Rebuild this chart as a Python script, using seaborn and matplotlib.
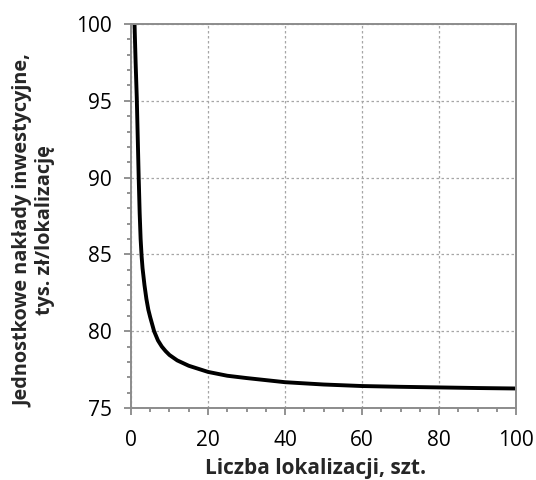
import matplotlib
matplotlib.use("Agg")
import matplotlib.pyplot as plt
from matplotlib.ticker import MultipleLocator
import seaborn as sns
import pandas as pd

# Unit investment cost vs. number of locations
liczba_lokalizacji = [0.85, 1.2, 1.5, 1.75, 2, 2.25, 2.5, 2.75, 3, 3.5, 4, 4.5, 5, 6, 7, 8,
                      9, 10, 12, 15, 20, 25, 30, 40, 50, 60, 70, 80, 90, 100]
naklady = [100.6, 97.5, 95.2, 92.6, 90.0, 87.7, 86.0, 84.9, 84.1, 83.0, 82.1, 81.4, 80.9,
           80.0, 79.4, 79.0, 78.7, 78.45, 78.1, 77.75, 77.35, 77.1, 76.95, 76.68, 76.53,
           76.43, 76.38, 76.34, 76.3, 76.27]

x_ticks = [0, 20, 40, 60, 80, 100]
y_ticks = [75, 80, 85, 90, 95, 100]

df = pd.DataFrame({"x": liczba_lokalizacji, "y": naklady})

sns.set_theme(style="white")
plt.rcParams["font.family"] = ["Open Sans", "DejaVu Sans"]

fig = plt.figure(figsize=(5.36, 4.8), dpi=100)
ax = fig.add_axes([0.2444, 0.15, 0.7183, 0.80])

sns.lineplot(data=df, x="x", y="y", ax=ax, color="black", linewidth=2.8)
for ln in ax.get_lines():
    ln.set_solid_joinstyle("round")

ax.set_xlim(0, 100)
ax.set_ylim(75, 100)
ax.set_xticks(x_ticks)
ax.set_yticks(y_ticks)
ax.xaxis.set_minor_locator(MultipleLocator(5))
ax.yaxis.set_minor_locator(MultipleLocator(1))
ax.tick_params(axis="both", which="major", direction="out", length=5, width=1.2,
               color="#7f7f7f", labelsize=15, labelcolor="black",
               bottom=True, left=True)
ax.tick_params(axis="both", which="minor", direction="out", length=3.2, width=1.2,
               color="#7f7f7f", bottom=True, left=True)
ax.tick_params(axis="x", which="major", pad=11)
ax.tick_params(axis="y", which="major", pad=9)

ax.grid(True, which="major", linestyle=(0, (2, 2)), color="#a6a6a6", linewidth=0.9)
for s in ax.spines.values():
    s.set_color("#8c8c8c")
    s.set_linewidth(1.4)

ax.set_xlabel("Liczba lokalizacji, szt.", fontsize=15, fontweight="bold")
ax.set_ylabel("Jednostkowe nakłady inwestycyjne,\ntys. zł/lokalizację", fontsize=14.3,
              fontweight="bold", linespacing=1.1)
ax.xaxis.set_label_coords(0.479, -0.13)
ax.yaxis.set_label_coords(-0.198, 0.463)

fig.savefig("out.png", dpi=100)
